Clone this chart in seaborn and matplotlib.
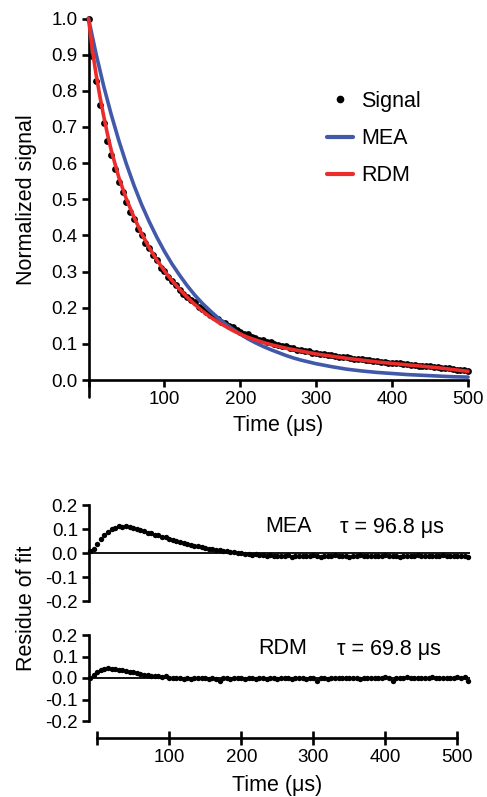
import numpy as np
import matplotlib
matplotlib.use("Agg")
import matplotlib.pyplot as plt
from matplotlib.lines import Line2D
import seaborn as sns

# ---------------- data ----------------
# measured signal, one point every 5 us from 0 to 500 us
sig_step = 5
sig_v = [1.000, 0.897, 0.828, 0.762, 0.712, 0.662, 0.622, 0.583, 0.549, 0.519,
         0.492, 0.466, 0.446, 0.418, 0.400, 0.380, 0.364, 0.345, 0.331, 0.311,
         0.301, 0.286, 0.274, 0.262, 0.249, 0.239, 0.230, 0.220, 0.215, 0.201,
         0.196, 0.188, 0.179, 0.173, 0.169, 0.160, 0.157, 0.148, 0.146, 0.138,
         0.134, 0.128, 0.126, 0.120, 0.117, 0.112, 0.111, 0.105, 0.104, 0.100,
         0.098, 0.094, 0.093, 0.088, 0.088, 0.084, 0.084, 0.079, 0.079, 0.076,
         0.075, 0.072, 0.072, 0.069, 0.068, 0.066, 0.065, 0.063, 0.063, 0.060,
         0.059, 0.057, 0.058, 0.055, 0.054, 0.053, 0.052, 0.050, 0.050, 0.048,
         0.047, 0.046, 0.046, 0.044, 0.044, 0.042, 0.041, 0.040, 0.040, 0.038,
         0.038, 0.036, 0.035, 0.034, 0.034, 0.032, 0.031, 0.029, 0.028, 0.027,
         0.025]

# MEA fit curve (blue)
mea_t = [0, 10, 20, 30, 40, 50, 60, 70, 80, 90, 100, 110, 120, 130, 140, 150,
         160, 170, 180, 190, 200, 210, 220, 230, 240, 250, 260, 270, 280, 290,
         300, 320, 340, 360, 380, 400, 420, 440, 460, 480, 500]
mea_v = [1.000, 0.902, 0.813, 0.734, 0.662, 0.597, 0.538, 0.485, 0.438, 0.395,
         0.356, 0.321, 0.290, 0.261, 0.235, 0.212, 0.192, 0.173, 0.156, 0.141,
         0.127, 0.114, 0.103, 0.093, 0.084, 0.076, 0.068, 0.061, 0.055, 0.050,
         0.045, 0.037, 0.030, 0.025, 0.021, 0.018, 0.015, 0.013, 0.011, 0.009,
         0.008]

# RDM fit curve (red)
rdm_t = [0, 5, 10, 15, 20, 25, 30, 40, 50, 60, 70, 80, 90, 100, 110, 120, 130,
         140, 150, 160, 170, 180, 190, 200, 210, 220, 230, 240, 250, 260, 270,
         280, 290, 300, 320, 340, 360, 380, 400, 420, 440, 460, 480, 500]
rdm_v = [1.000, 0.915, 0.845, 0.785, 0.730, 0.680, 0.635, 0.560, 0.500, 0.450,
         0.405, 0.366, 0.332, 0.302, 0.275, 0.251, 0.229, 0.209, 0.191, 0.175,
         0.161, 0.149, 0.137, 0.127, 0.118, 0.111, 0.104, 0.098, 0.093, 0.088,
         0.084, 0.080, 0.076, 0.072, 0.066, 0.060, 0.055, 0.050, 0.046, 0.042,
         0.038, 0.034, 0.029, 0.024]

# residues, one point every 5 us starting at -10 us
res_start, res_step = -10, 5
res_mea = [0.008, 0.018, 0.038, 0.058, 0.076, 0.088, 0.099, 0.106, 0.112, 0.110,
           0.114, 0.107, 0.104, 0.101, 0.095, 0.091, 0.084, 0.083, 0.076, 0.073,
           0.066, 0.068, 0.060, 0.054, 0.051, 0.045, 0.043, 0.037, 0.035, 0.030,
           0.028, 0.023, 0.022, 0.018, 0.017, 0.012, 0.011, 0.007, 0.007, 0.003,
           0.004, 0.000, -0.001, -0.004, -0.003, -0.007, -0.006, -0.009, -0.008, -0.011,
           -0.010,
           -0.013, -0.011, -0.014, -0.012, -0.010, -0.016, -0.012, -0.013, -0.011, -0.014,
           -0.012, -0.010, -0.013, -0.015, -0.011, -0.012, -0.014, -0.010, -0.013, -0.012,
           -0.011, -0.015, -0.012, -0.013, -0.010, -0.014, -0.012, -0.011, -0.013, -0.012,
           -0.014, -0.010, -0.012, -0.013, -0.011, -0.015, -0.012, -0.011, -0.013, -0.012,
           -0.010, -0.014, -0.012, -0.013, -0.011, -0.012, -0.014, -0.010, -0.013, -0.012,
           -0.011, -0.013, -0.012, -0.014, -0.016]
res_rdm = [0.002, 0.012, 0.026, 0.036, 0.042, 0.046, 0.043, 0.044, 0.039, 0.037,
           0.032, 0.030, 0.026, 0.023, 0.018, 0.016, 0.012, 0.011, 0.008, 0.007,
           0.003, 0.008, 0.002,
           0.001, -0.002, 0.002, -0.003, 0.000, -0.004, 0.001, -0.002, -0.001, 0.002,
           -0.003, -0.001, -0.004, -0.012, -0.002, 0.001, -0.003, -0.001, 0.002, -0.002,
           -0.003, 0.000, -0.002, -0.004, -0.001, 0.001, -0.003, -0.002, 0.000, -0.003,
           -0.001, 0.001, -0.002, -0.004, 0.000, -0.002, 0.001, -0.003, -0.001, 0.001,
           -0.014, -0.002, 0.000, -0.003, 0.001, -0.002, 0.000, -0.001, 0.002, -0.002,
           0.000, 0.001, -0.003, 0.002, -0.001, 0.000, 0.002, -0.002, 0.001, 0.003,
           0.000, -0.012, 0.002, -0.001, 0.001, 0.003, -0.001, 0.002, 0.000, 0.002,
           -0.002, 0.001, 0.003, -0.001, 0.002, 0.000, 0.002, 0.001, -0.001, 0.003,
           0.001, 0.004, -0.016]

time_ticks = [0, 100, 200, 300, 400, 500]
time_ticklabels = ["", "100", "200", "300", "400", "500"]
sig_yticks = [0.0, 0.1, 0.2, 0.3, 0.4, 0.5, 0.6, 0.7, 0.8, 0.9, 1.0]
res_yticks = [-0.2, -0.1, 0.0, 0.1, 0.2]
res_yticklabels = ["-0.2", "-0.1", "0.0", "0.1", "0.2"]
series_names = ["Signal", "MEA", "RDM"]
tau_labels = ["\u03c4 = 96.8 \u03bcs", "\u03c4 = 69.8 \u03bcs"]

sig_t = np.arange(len(sig_v)) * sig_step
res_t_mea = res_start + np.arange(len(res_mea)) * res_step
res_t_rdm = res_start + np.arange(len(res_rdm)) * res_step

# ---------------- style ----------------
sns.set_theme(style="ticks")
plt.rcParams["font.family"] = ["Liberation Sans", "DejaVu Sans"]
for k in ["axes.edgecolor", "xtick.color", "ytick.color", "text.color", "axes.labelcolor"]:
    plt.rcParams[k] = "black"

BLUE = "#4259A9"
RED = "#EC2B2B"
LW_AX = 1.9
TICK_FS = 13.5
LABEL_FS = 15.5

W, H = 487, 797
fig = plt.figure(figsize=(W / 100, H / 100), dpi=100)


def add_ax(l, t, r, b):
    return fig.add_axes([l / W, 1 - b / H, (r - l) / W, (b - t) / H])


# ---------------- top panel ----------------
ax1 = add_ax(88.5, 18.5, 468, 380)
sns.scatterplot(x=sig_t, y=sig_v, ax=ax1, color="black", s=24, linewidth=0,
                zorder=2, clip_on=False, legend=False)
sns.lineplot(x=mea_t, y=mea_v, ax=ax1, color=BLUE, lw=2.6, zorder=3,
             clip_on=False, legend=False)
sns.lineplot(x=rdm_t, y=rdm_v, ax=ax1, color=RED, lw=2.6, zorder=4,
             clip_on=False, legend=False)
ax1.set_xlim(0, 500)
ax1.set_ylim(0, 1.0)
ax1.set_xticks(time_ticks)
ax1.set_xticklabels(time_ticklabels)
ax1.set_yticks(sig_yticks)
ax1.set_yticklabels([f"{v:.1f}" for v in sig_yticks])
for s in ["top", "right"]:
    ax1.spines[s].set_visible(False)
for s in ["left", "bottom"]:
    ax1.spines[s].set_linewidth(LW_AX)
ax1.tick_params(axis="both", direction="out", length=5, width=LW_AX,
                labelsize=TICK_FS, pad=3)
ax1.axvline(0, ymin=-0.047, ymax=0, color="black", lw=LW_AX, clip_on=False)
ax1.set_xlabel("")
ax1.set_ylabel("")

handles = [
    Line2D([], [], marker="o", ls="", color="black", markersize=4.5),
    Line2D([], [], color=BLUE, lw=3),
    Line2D([], [], color=RED, lw=3),
]
ax1.legend(handles=handles, labels=series_names, loc="upper left",
           bbox_to_anchor=(327 / W, 1 - 91 / H), bbox_transform=fig.transFigure,
           frameon=False, fontsize=LABEL_FS, handlelength=1.2,
           handletextpad=0.4, labelspacing=0.75, borderpad=0, borderaxespad=0)

fig.text(27 / W, 1 - 200 / H, "Normalized signal", rotation=90,
         ha="center", va="center", fontsize=LABEL_FS)
fig.text(278 / W, 1 - 426 / H, "Time (\u03bcs)", ha="center", va="center",
         fontsize=LABEL_FS)

# ---------------- residue panels ----------------
ax2 = add_ax(89, 505, 470, 601)
ax3 = add_ax(89, 635, 470, 721)
for ax, rt, rv in [(ax2, res_t_mea, res_mea), (ax3, res_t_rdm, res_rdm)]:
    ax.axhline(0, color="black", lw=1.3, zorder=1)
    sns.scatterplot(x=rt, y=rv, ax=ax, color="black", s=15, linewidth=0,
                    zorder=2, clip_on=False, legend=False)
    ax.set_xlim(-11.5, 517.6)
    ax.set_ylim(-0.2, 0.2)
    ax.set_yticks(res_yticks)
    ax.set_yticklabels(res_yticklabels)
    for s in ["top", "right"]:
        ax.spines[s].set_visible(False)
    for s in ["left", "bottom"]:
        ax.spines[s].set_linewidth(LW_AX)
    ax.tick_params(axis="y", direction="out", length=5, width=LW_AX,
                   labelsize=TICK_FS, pad=3)
    ax.set_xlabel("")
    ax.set_ylabel("")

ax2.spines["bottom"].set_visible(False)
ax2.set_xticks([])

ax3.spines["bottom"].set_position(("outward", 12.2))
ax3.spines["bottom"].set_bounds(0, 500)
ax3.set_xticks(time_ticks)
ax3.set_xticklabels(time_ticklabels)
ax3.tick_params(axis="x", direction="inout", length=9.5, width=LW_AX,
                labelsize=TICK_FS, pad=3)

fig.text(265 / W, 1 - 527 / H, "MEA", ha="left", va="center", fontsize=LABEL_FS)
fig.text(340 / W, 1 - 527 / H, tau_labels[0], ha="left", va="center", fontsize=LABEL_FS)
fig.text(258 / W, 1 - 649 / H, "RDM", ha="left", va="center", fontsize=LABEL_FS)
fig.text(337 / W, 1 - 649 / H, tau_labels[1], ha="left", va="center", fontsize=LABEL_FS)

fig.text(27 / W, 1 - 608 / H, "Residue of fit", rotation=90,
         ha="center", va="center", fontsize=LABEL_FS)
fig.text(277 / W, 1 - 786 / H, "Time (\u03bcs)", ha="center", va="center",
         fontsize=LABEL_FS)

fig.savefig("out.png", dpi=100)
